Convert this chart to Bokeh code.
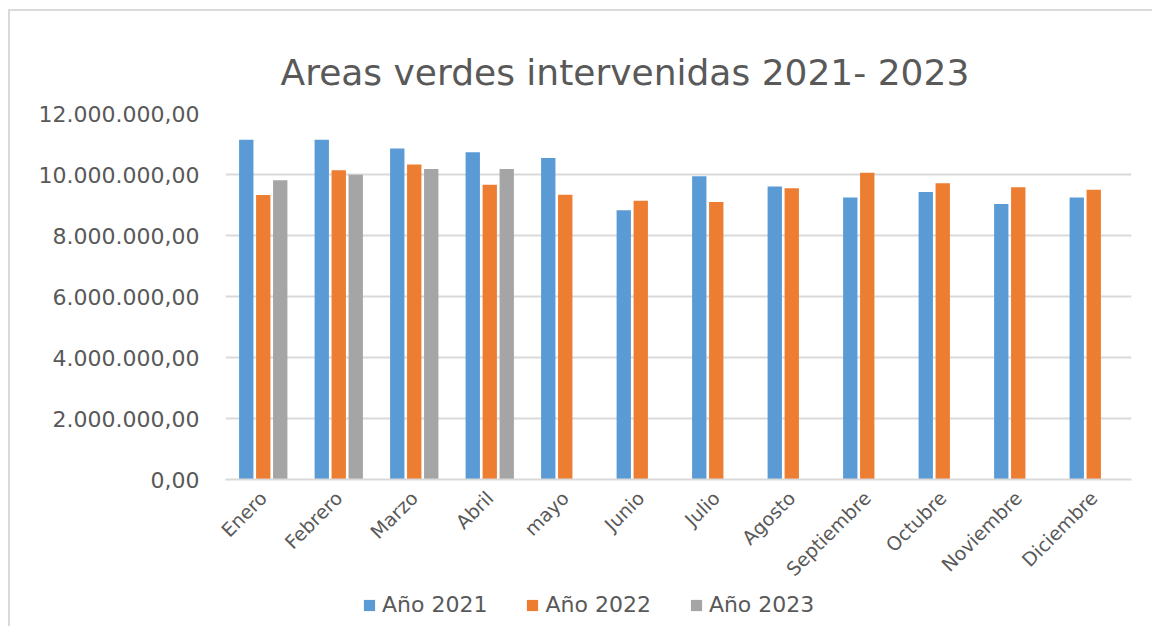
import math
from bokeh.plotting import figure
from bokeh.layouts import column
from bokeh.models import (ColumnDataSource, FactorRange, Range1d, FixedTicker,
                          CustomJSTickFormatter, Legend, LegendItem, Title)
from bokeh.transform import dodge
from bokeh.embed import file_html
from bokeh.resources import INLINE

months = ["Enero", "Febrero", "Marzo", "Abril", "mayo", "Junio", "Julio",
          "Agosto", "Septiembre", "Octubre", "Noviembre", "Diciembre"]
anio_2021 = [11140000, 11140000, 10850000, 10730000, 10540000, 8830000,
             9940000, 9610000, 9250000, 9430000, 9030000, 9250000]
anio_2022 = [9330000, 10140000, 10330000, 9660000, 9340000, 9140000,
             9100000, 9550000, 10060000, 9710000, 9580000, 9500000]
anio_2023 = [9810000, 9990000, 10180000, 10180000, float("nan"), float("nan"),
             float("nan"), float("nan"), float("nan"), float("nan"),
             float("nan"), float("nan")]
series_labels = ["Año 2021", "Año 2022", "Año 2023"]
y_ticks = [0, 2000000, 4000000, 6000000, 8000000, 10000000, 12000000]

colors = ["#5b9bd5", "#ed7d31", "#a5a5a5"]
TEXT = "#595959"
FONT = "DejaVu Sans"
BORDER = "#d9d9d9"

source = ColumnDataSource(data=dict(month=months, a2021=anio_2021,
                                    a2022=anio_2022, a2023=anio_2023))

p = figure(x_range=FactorRange(*months, range_padding=0),
           y_range=Range1d(0, 12000000),
           width=1142, height=579, output_backend="svg",
           toolbar_location=None,
           min_border_left=215, min_border_right=21, min_border_top=102,
           min_border_bottom=111)

title = Title(text="Areas verdes intervenidas  2021- 2023", align="left",
              offset=55, text_font=FONT, text_font_size="36px",
              text_font_style="normal", text_color=TEXT, standoff=42)
p.add_layout(title, "above")

renderers = []
for col, off, c in zip(["a2021", "a2022", "a2023"], [-0.225, 0.0, 0.225], colors):
    r = p.vbar(x=dodge("month", off, range=p.x_range), top=col, width=0.19,
               source=source, fill_color=c, line_color=None)
    renderers.append(r)

p.outline_line_color = None
p.background_fill_color = "white"
p.border_fill_color = "white"

p.xgrid.visible = False
p.ygrid.grid_line_color = BORDER
p.ygrid.grid_line_width = 2

p.yaxis.ticker = FixedTicker(ticks=y_ticks)
p.yaxis.formatter = CustomJSTickFormatter(code="""
    const s = Math.round(tick).toString().replace(/\\B(?=(\\d{3})+(?!\\d))/g, ".");
    return s + ",00";
""")
p.yaxis.axis_line_color = None
p.yaxis.major_tick_line_color = None
p.yaxis.minor_tick_line_color = None
p.yaxis.major_label_standoff = 20
p.yaxis.major_label_text_font = FONT
p.yaxis.major_label_text_font_size = "22px"
p.yaxis.major_label_text_color = TEXT

p.xaxis.axis_line_color = BORDER
p.xaxis.axis_line_width = 2
p.xaxis.major_tick_line_color = None
p.xaxis.minor_tick_line_color = None
p.xaxis.major_label_orientation = math.pi / 4
p.xaxis.major_label_standoff = 9
p.xaxis.major_label_text_font = FONT
p.xaxis.major_label_text_font_size = "19px"
p.xaxis.major_label_text_color = TEXT

# Legend strip below the chart: key swatches are zero-height bars placed
# outside the visible range, only so the legend can draw its colour keys.
lg = figure(width=1142, height=36, output_backend="svg", toolbar_location=None,
            x_range=Range1d(0, 1), y_range=Range1d(0, 1),
            min_border_left=0, min_border_right=0, min_border_top=0,
            min_border_bottom=0)
lg.axis.visible = False
lg.grid.visible = False
lg.outline_line_color = None
lg.border_fill_color = "white"
lg_renderers = []
for c in colors:
    lg_renderers.append(lg.vbar(x=[-5], top=[0], width=0.1, fill_color=c,
                                line_color=None))
legend = Legend(items=[LegendItem(label=l, renderers=[r])
                       for l, r in zip(series_labels, lg_renderers)],
                orientation="horizontal", location=(137, 9),
                label_text_font=FONT, label_text_font_size="22px",
                label_text_color=TEXT, glyph_width=14, glyph_height=14,
                label_standoff=6, spacing=38, padding=0, margin=0,
                border_line_color=None, background_fill_alpha=0)
lg.add_layout(legend, "center")

layout = column(p, lg, spacing=0)
layout.styles = {"margin-left": "8px", "margin-top": "9px",
                 "border-style": "solid none none solid",
                 "border-width": "2px 0px 0px 2px",
                 "border-color": BORDER}

open("out.html", "w").write(file_html(layout, INLINE))
